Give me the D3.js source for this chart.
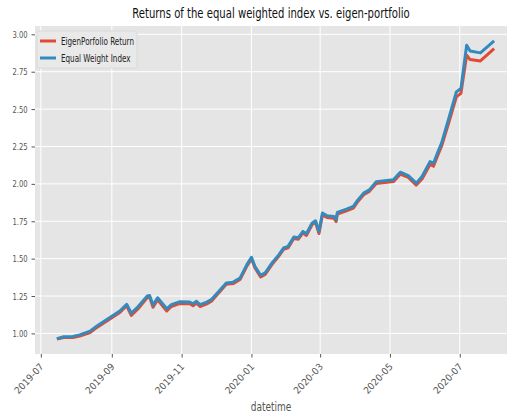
<!DOCTYPE html>
<html>
<head>
<meta charset="utf-8">
<script src="https://cdn.jsdelivr.net/npm/d3@7"></script>
<style>
	body { margin: 0; background: #fff; }
	text { font-family: "DejaVu Sans", sans-serif; }
</style>
</head>
<body>
<div id="chart"></div>
<script>
var dates = ["2019-07-15","2019-07-21","2019-07-29","2019-08-04","2019-08-13","2019-08-19","2019-08-27",
	"2019-09-02","2019-09-08","2019-09-14","2019-09-18","2019-09-24","2019-10-02","2019-10-04","2019-10-07",
	"2019-10-11","2019-10-19","2019-10-23","2019-10-30","2019-11-08","2019-11-11","2019-11-14","2019-11-17",
	"2019-11-23","2019-11-27","2019-12-01","2019-12-10","2019-12-16","2019-12-22","2019-12-28","2020-01-01",
	"2020-01-04","2020-01-09","2020-01-13","2020-01-19","2020-01-25","2020-01-29","2020-02-02","2020-02-07",
	"2020-02-11","2020-02-15","2020-02-18","2020-02-23","2020-02-26","2020-02-29","2020-03-03","2020-03-07",
	"2020-03-13","2020-03-15","2020-03-16","2020-03-24","2020-03-30","2020-04-03","2020-04-08","2020-04-13",
	"2020-04-19","2020-05-04","2020-05-10","2020-05-17","2020-05-24","2020-05-29","2020-06-05","2020-06-08",
	"2020-06-12","2020-06-15","2020-06-21","2020-06-28","2020-07-02","2020-07-07","2020-07-10","2020-07-19",
	"2020-07-31"];

var eigenReturn = [0.962,0.972,0.972,0.982,1.005,1.040,1.080,
	1.110,1.140,1.185,1.120,1.165,1.240,1.243,1.175,
	1.225,1.150,1.180,1.200,1.198,1.185,1.203,1.180,
	1.197,1.215,1.250,1.328,1.333,1.360,1.450,1.500,
	1.440,1.378,1.395,1.462,1.518,1.562,1.572,1.635,
	1.630,1.672,1.655,1.728,1.742,1.668,1.792,1.775,
	1.770,1.748,1.798,1.820,1.838,1.882,1.927,1.950,
	2.003,2.015,2.065,2.043,1.992,2.033,2.130,2.118,
	2.195,2.250,2.400,2.582,2.605,2.860,2.831,2.822,
	2.905];

var equalWeight = [0.965,0.978,0.980,0.990,1.015,1.050,1.090,
	1.120,1.150,1.195,1.135,1.180,1.250,1.253,1.190,
	1.238,1.165,1.193,1.211,1.210,1.198,1.215,1.193,
	1.209,1.227,1.260,1.337,1.343,1.370,1.460,1.509,
	1.449,1.389,1.405,1.471,1.527,1.571,1.582,1.645,
	1.640,1.682,1.667,1.738,1.753,1.682,1.805,1.787,
	1.782,1.760,1.809,1.831,1.849,1.893,1.938,1.960,
	2.015,2.027,2.078,2.055,2.005,2.049,2.149,2.138,
	2.216,2.271,2.427,2.615,2.638,2.927,2.889,2.876,
	2.956];

var seriesNames = ["EigenPorfolio Return", "Equal Weight Index"];
var seriesColors = ["#E24A33", "#348ABD"];
var yTicks = [1.00, 1.25, 1.50, 1.75, 2.00, 2.25, 2.50, 2.75, 3.00];

(function () {
	var W = 507, H = 416;
	var left = 35, top = 26, plotW = 481, plotH = 328;
	var sx = 0.72; // squeeze of the text, the figure was narrowed

	var parse = d3.timeParse("%Y-%m-%d");
	var t = dates.map(parse);
	var series = [eigenReturn, equalWeight].map(function (vals, k) {
		return { name: seriesNames[k], color: seriesColors[k],
			pts: vals.map(function (v, i) { return { d: t[i], v: v }; }) };
	});

	// matplotlib style 5% margins
	var tExt = d3.extent(t), tPad = (tExt[1] - tExt[0]) * 0.05;
	var allV = eigenReturn.concat(equalWeight);
	var vExt = d3.extent(allV), vPad = (vExt[1] - vExt[0]) * 0.05;

	var x = d3.scaleTime()
		.domain([new Date(+tExt[0] - tPad), new Date(+tExt[1] + tPad)])
		.range([left, left + plotW]);
	var y = d3.scaleLinear()
		.domain([vExt[0] - vPad, vExt[1] + vPad])
		.range([top + plotH, top]);

	var svg = d3.select("#chart").append("svg")
		.attr("width", W).attr("height", H);

	svg.append("rect").attr("x", left).attr("y", top)
		.attr("width", plotW).attr("height", plotH).attr("fill", "#E5E5E5");

	var xTicks = x.ticks(d3.timeMonth.every(2));

	// grid
	svg.append("g").selectAll("line").data(xTicks).enter().append("line")
		.attr("x1", function (d) { return x(d); }).attr("x2", function (d) { return x(d); })
		.attr("y1", top).attr("y2", top + plotH)
		.attr("stroke", "#fff").attr("stroke-width", 1);
	svg.append("g").selectAll("line").data(yTicks).enter().append("line")
		.attr("x1", left).attr("x2", left + plotW)
		.attr("y1", function (d) { return y(d); }).attr("y2", function (d) { return y(d); })
		.attr("stroke", "#fff").attr("stroke-width", 1);

	// axes
	var yAxis = svg.append("g").attr("transform", "translate(" + left + ",0)")
		.call(d3.axisLeft(y).tickValues(yTicks).tickFormat(d3.format(".2f")).tickSize(3.5).tickPadding(4));
	var xAxis = svg.append("g").attr("transform", "translate(0," + (top + plotH) + ")")
		.call(d3.axisBottom(x).tickValues(xTicks).tickFormat(d3.timeFormat("%Y-%m")).tickSize(3.5));
	[yAxis, xAxis].forEach(function (a) {
		a.select(".domain").remove();
		a.selectAll(".tick line").attr("stroke", "#555");
		a.selectAll(".tick text").attr("fill", "#555").attr("font-size", 9.5)
			.style("font-family", "DejaVu Sans");
	});
	yAxis.selectAll(".tick text")
		.attr("transform", function () {
			return "translate(-7,0) scale(" + sx + ",1) translate(7,0)";
		});
	xAxis.selectAll(".tick text")
		.attr("y", 0).attr("dy", 0)
		.attr("text-anchor", "end")
		.attr("dominant-baseline", "hanging")
		.attr("transform", "translate(-2.5,8) rotate(-47) scale(0.95,1)");

	// lines
	var line = d3.line()
		.x(function (d) { return x(d.d); })
		.y(function (d) { return y(d.v); });
	svg.append("defs").append("clipPath").attr("id", "clip")
		.append("rect").attr("x", left).attr("y", top).attr("width", plotW).attr("height", plotH);
	svg.append("g").attr("clip-path", "url(#clip)")
		.selectAll("path").data(series).enter().append("path")
		.attr("d", function (s) { return line(s.pts); })
		.attr("fill", "none")
		.attr("stroke", function (s) { return s.color; })
		.attr("stroke-width", 3)
		.attr("stroke-linejoin", "round");

	// legend
	var lg = svg.append("g").attr("transform", "translate(" + (left + 2) + "," + (top + 5) + ")");
	lg.append("rect").attr("width", 100).attr("height", 37).attr("rx", 2)
		.attr("fill", "#E9E9E9").attr("stroke", "#D5D5D5").attr("stroke-width", 0.8);
	var items = lg.selectAll(".item").data(series).enter().append("g")
		.attr("transform", function (s, i) { return "translate(0," + (10 + i * 17) + ")"; });
	items.append("line").attr("x1", 3).attr("x2", 19).attr("y1", 0).attr("y2", 0)
		.attr("stroke", function (s) { return s.color; }).attr("stroke-width", 3);
	items.append("text")
		.attr("transform", "translate(24,0) scale(" + sx + ",1)")
		.attr("dy", "0.35em").attr("font-size", 10).attr("fill", "#222")
		.text(function (s) { return s.name; });

	// title and axis label
	svg.append("text")
		.attr("transform", "translate(" + (left + 236) + ",18) scale(" + sx + ",1)")
		.attr("text-anchor", "middle").attr("font-size", 14).attr("fill", "#111")
		.text("Returns of the equal weighted index vs. eigen-portfolio");
	svg.append("text")
		.attr("transform", "translate(" + (left + 236) + ",411) scale(" + sx + ",1)")
		.attr("text-anchor", "middle").attr("font-size", 12.5).attr("fill", "#555")
		.text("datetime");
})();
</script>
</body>
</html>
